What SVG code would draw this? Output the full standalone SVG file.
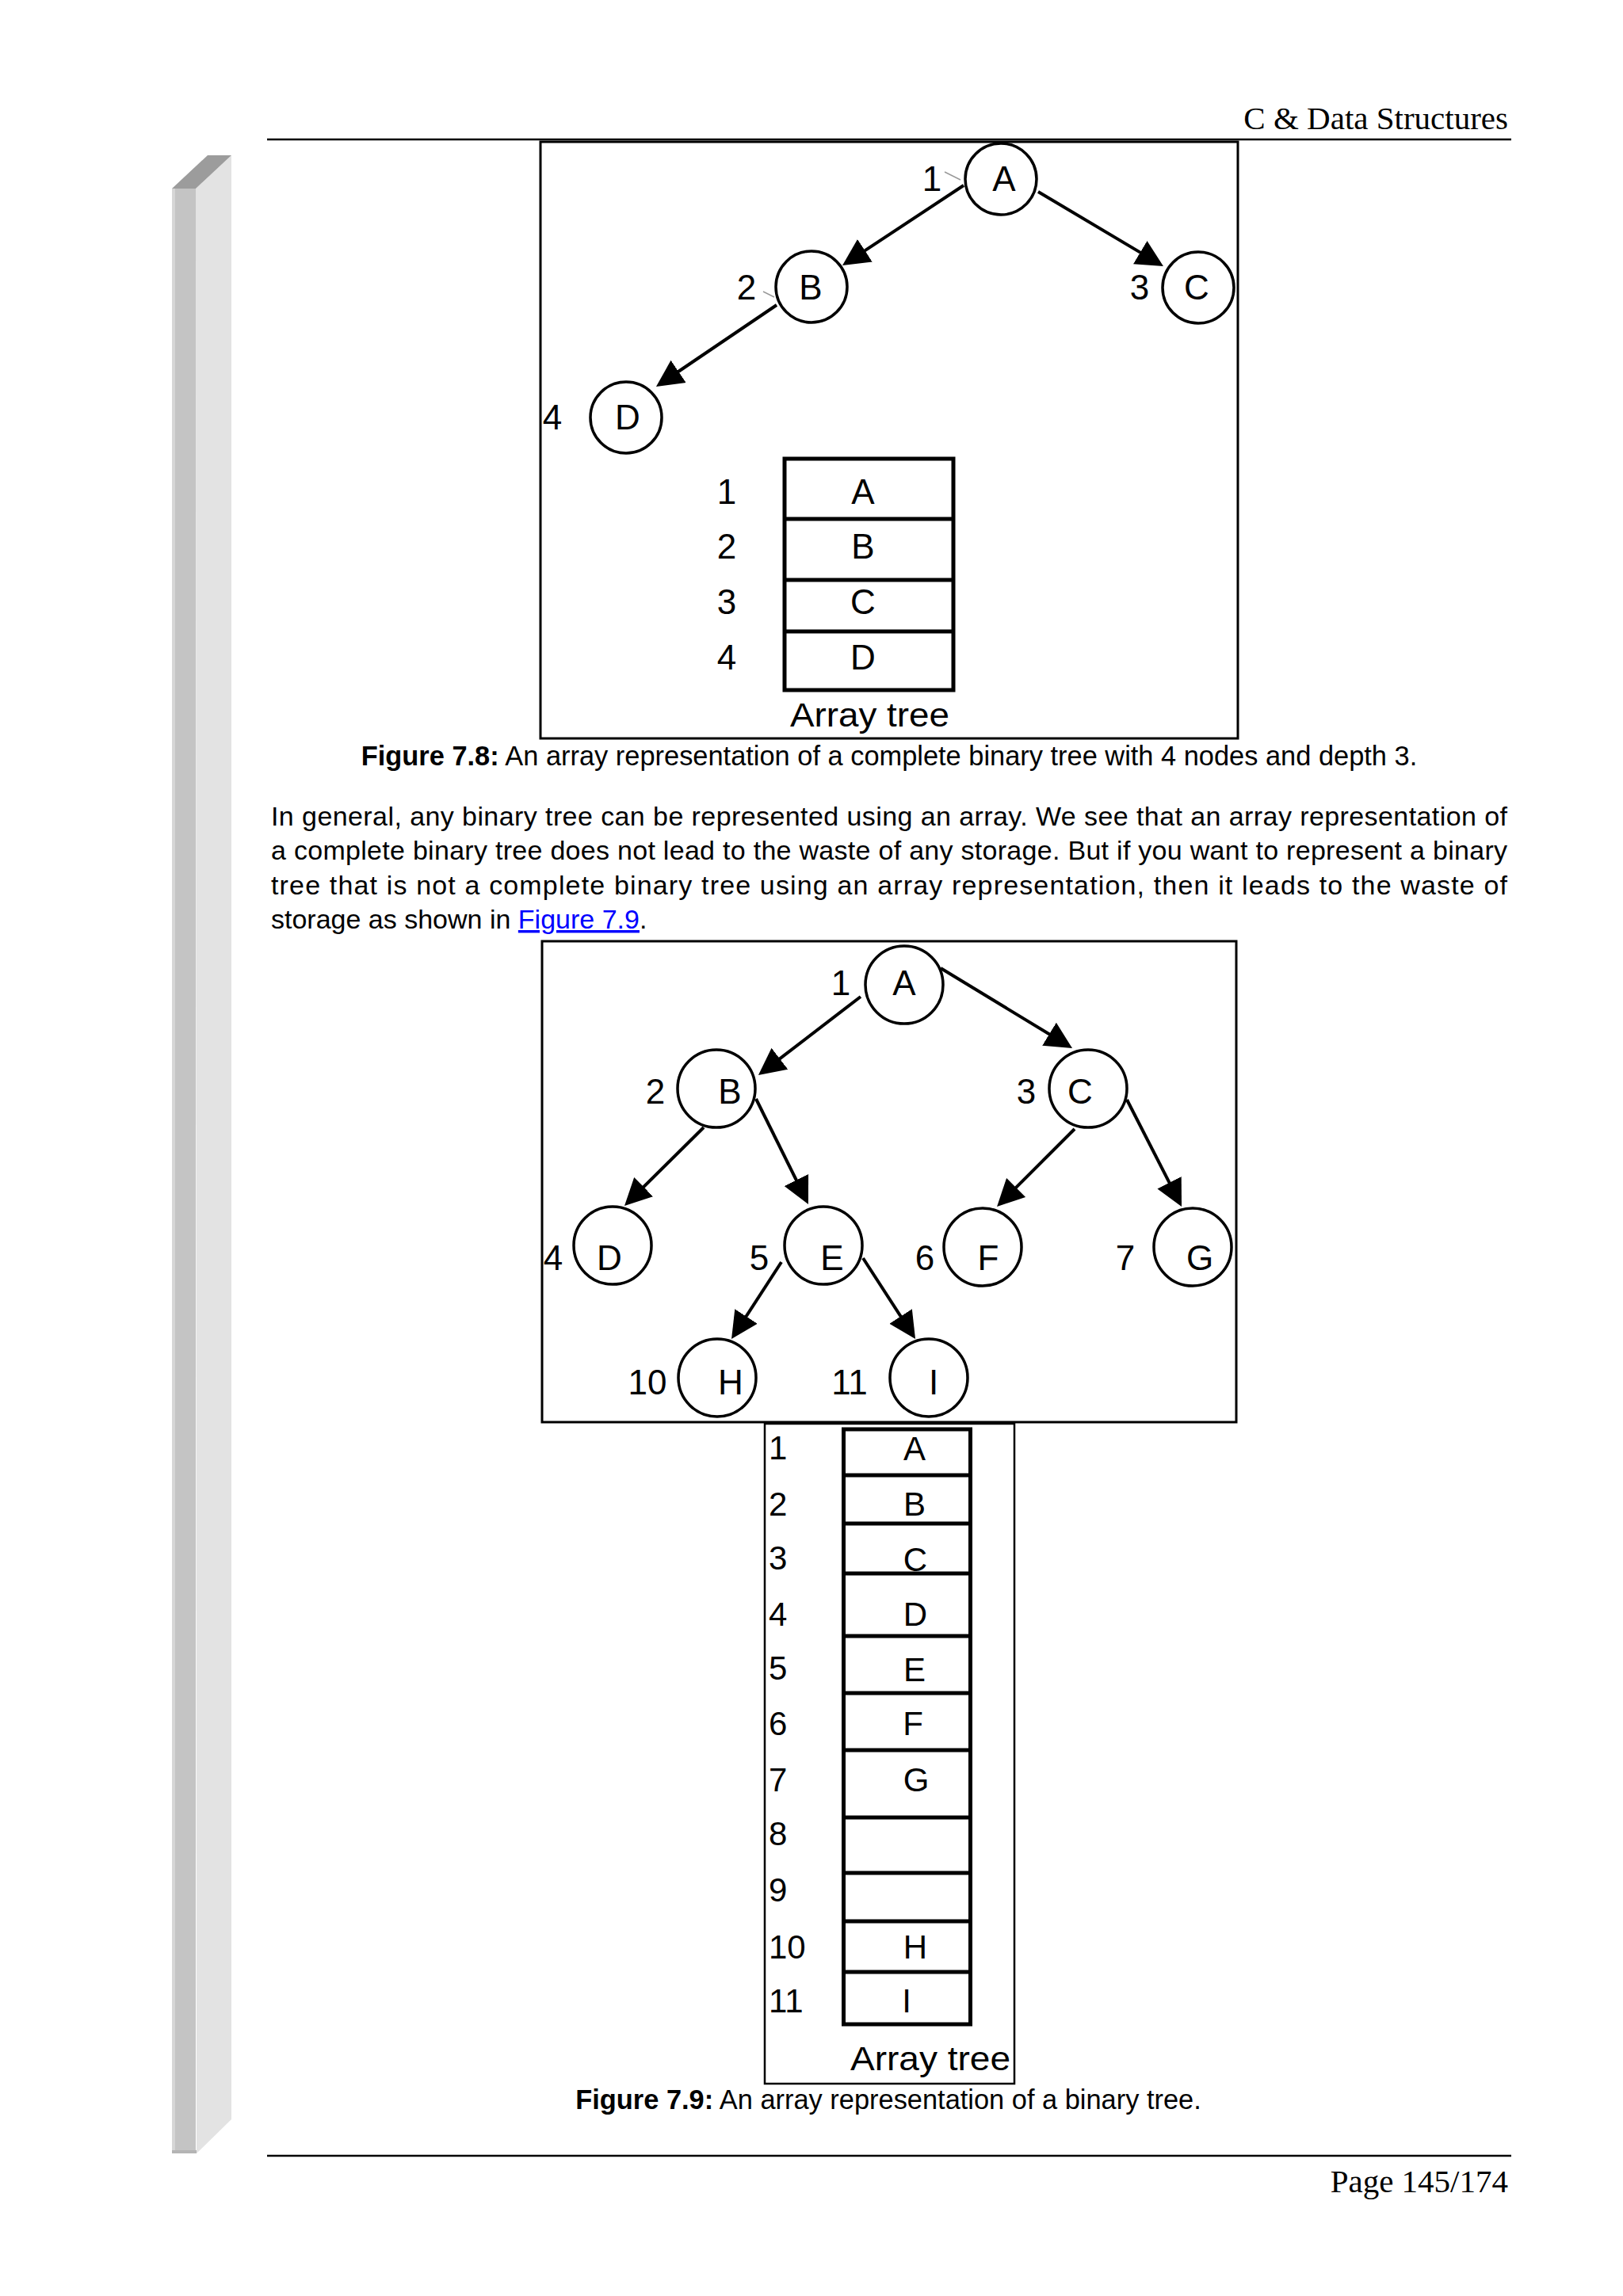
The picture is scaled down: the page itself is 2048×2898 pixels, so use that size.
<svg xmlns="http://www.w3.org/2000/svg" width="2048" height="2898" viewBox="0 0 2048 2898">
<defs>
<style>
.sans{font-family:"Liberation Sans",Arial,sans-serif;fill:#000}
.serif{font-family:"Liberation Serif","Times New Roman",serif;fill:#000}
.body{font-size:34px}
.cap{font-size:34.4px}
.lbl{font-size:44px;text-anchor:middle}
.cell{font-size:42px;text-anchor:middle}
.idx{font-size:42px}
.node{fill:#fff;stroke:#000;stroke-width:3.5}
.edge{stroke:#000;stroke-width:4;fill:none;marker-end:url(#ah)}
.frame{fill:none;stroke:#000;stroke-width:3}
.grid{stroke:#000;stroke-width:5;fill:none}
.rule{stroke:#000;stroke-width:2.5}
.tick{stroke:#999;stroke-width:1.5}
</style>
<marker id="ah" markerUnits="userSpaceOnUse" markerWidth="34" markerHeight="36" viewBox="0 0 34 36" refX="26" refY="18" orient="auto">
<path d="M0,1 L34,18 L0,35 z" fill="#000"/>
</marker>
</defs>
<rect width="2048" height="2898" fill="#fff"/>

<!-- decorative side bar -->
<g id="sidebar">
<polygon points="247,238 292,196 292,2675 248,2718" fill="#e3e3e3"/>
<rect x="217" y="238" width="30" height="2480" fill="#c4c4c4"/>
<rect x="217" y="238" width="4" height="2480" fill="#d6d6d6"/>
<rect x="217" y="2714" width="31" height="4" fill="#b4b4b4"/>
<polygon points="217,238 262,196 292,196 247,238" fill="#9c9c9c"/>
</g>

<!-- header / footer -->
<g id="header">
<text class="serif" x="1903" y="163" font-size="41" text-anchor="end">C &amp; Data Structures</text>
<line class="rule" x1="337" y1="176" x2="1907" y2="176"/>
</g>
<g id="footer">
<line class="rule" x1="337" y1="2721" x2="1907" y2="2721"/>
<text class="serif" x="1903" y="2767" font-size="41" text-anchor="end">Page 145/174</text>
</g>

<!-- Figure 7.8 -->
<g id="fig78">
<rect class="frame" x="682" y="179" width="880" height="753"/>
<g id="f78-connectors">
<line class="edge" x1="1216" y1="234" x2="1069.7" y2="330.6"/>
<line class="edge" x1="1310" y1="242" x2="1461.1" y2="331.9"/>
<line class="edge" x1="980" y1="385" x2="834.6" y2="483.5"/>
</g>
<g id="f78-A"><circle class="node" cx="1263" cy="226" r="45"/><text class="sans lbl" x="1267" y="241">A</text><text class="sans lbl" x="1176" y="241">1</text><line class="tick" x1="1192" y1="217" x2="1212" y2="227"/></g>
<g id="f78-B"><circle class="node" cx="1024" cy="362" r="45"/><text class="sans lbl" x="1023" y="378">B</text><text class="sans lbl" x="942" y="378">2</text><line class="tick" x1="963" y1="368" x2="977" y2="375"/></g>
<g id="f78-C"><circle class="node" cx="1512" cy="363" r="45"/><text class="sans lbl" x="1510" y="378">C</text><text class="sans lbl" x="1438" y="378">3</text></g>
<g id="f78-D"><circle class="node" cx="790" cy="527" r="45"/><text class="sans lbl" x="792" y="542">D</text><text class="sans lbl" x="697" y="542">4</text></g>
<g id="f78-array">
<rect class="grid" x="990" y="579" width="213" height="292"/>
<line class="grid" x1="990" y1="655" x2="1203" y2="655"/>
<line class="grid" x1="990" y1="732" x2="1203" y2="732"/>
<line class="grid" x1="990" y1="797" x2="1203" y2="797"/>
<text class="sans lbl" x="917" y="636">1</text><text class="sans lbl" x="1089" y="636">A</text>
<text class="sans lbl" x="917" y="705">2</text><text class="sans lbl" x="1089" y="705">B</text>
<text class="sans lbl" x="917" y="775">3</text><text class="sans lbl" x="1089" y="775">C</text>
<text class="sans lbl" x="917" y="845">4</text><text class="sans lbl" x="1089" y="845">D</text>
<text class="sans" x="997" y="917" font-size="42" textLength="201" lengthAdjust="spacingAndGlyphs">Array tree</text>
</g>
</g>
<text class="sans cap" x="1122" y="966" text-anchor="middle"><tspan font-weight="bold">Figure 7.8:</tspan> An array representation of a complete binary tree with 4 nodes and depth 3.</text>

<!-- paragraph -->
<g id="paragraph">
<text class="sans body" x="342" y="1042" textLength="1560" lengthAdjust="spacing">In general, any binary tree can be represented using an array. We see that an array representation of</text>
<text class="sans body" x="342" y="1085" textLength="1560" lengthAdjust="spacing">a complete binary tree does not lead to the waste of any storage. But if you want to represent a binary</text>
<text class="sans body" x="342" y="1129" textLength="1560" lengthAdjust="spacing">tree that is not a complete binary tree using an array representation, then it leads to the waste of</text>
<text class="sans body" x="342" y="1172">storage as shown in <tspan fill="#0000ff" text-decoration="underline">Figure 7.9</tspan>.</text>
</g>

<!-- Figure 7.9 -->
<g id="fig79">
<rect class="frame" x="684" y="1188" width="876" height="607"/>
<g id="f79-connectors">
<line class="edge" x1="1086" y1="1258" x2="963.3" y2="1352.1"/>
<line class="edge" x1="1187" y1="1222" x2="1346.2" y2="1318.8"/>
<line class="edge" x1="888" y1="1423" x2="793.7" y2="1516.4"/>
<line class="edge" x1="954" y1="1387" x2="1016.4" y2="1512.8"/>
<line class="edge" x1="1356" y1="1425" x2="1263.7" y2="1517.3"/>
<line class="edge" x1="1422" y1="1388" x2="1487.4" y2="1515.9"/>
<line class="edge" x1="986" y1="1593" x2="927.4" y2="1683.3"/>
<line class="edge" x1="1089" y1="1588" x2="1150.7" y2="1683.3"/>
</g>
<g id="f79-A"><circle class="node" cx="1141" cy="1243" r="49"/><text class="sans lbl" x="1141" y="1256">A</text><text class="sans lbl" x="1061" y="1256">1</text></g>
<g id="f79-B"><circle class="node" cx="904" cy="1374" r="49"/><text class="sans lbl" x="921" y="1393">B</text><text class="sans lbl" x="827" y="1393">2</text></g>
<g id="f79-C"><circle class="node" cx="1373" cy="1374" r="49"/><text class="sans lbl" x="1363" y="1393">C</text><text class="sans lbl" x="1295" y="1393">3</text></g>
<g id="f79-D"><circle class="node" cx="773" cy="1572" r="49"/><text class="sans lbl" x="769" y="1603">D</text><text class="sans lbl" x="698" y="1603">4</text></g>
<g id="f79-E"><circle class="node" cx="1039" cy="1572" r="49"/><text class="sans lbl" x="1050" y="1603">E</text><text class="sans lbl" x="958" y="1603">5</text></g>
<g id="f79-F"><circle class="node" cx="1240" cy="1574" r="49"/><text class="sans lbl" x="1247" y="1603">F</text><text class="sans lbl" x="1167" y="1603">6</text></g>
<g id="f79-G"><circle class="node" cx="1505" cy="1574" r="49"/><text class="sans lbl" x="1514" y="1603">G</text><text class="sans lbl" x="1420" y="1603">7</text></g>
<g id="f79-H"><circle class="node" cx="905" cy="1739" r="49"/><text class="sans lbl" x="922" y="1760">H</text><text class="sans lbl" x="817" y="1760">10</text></g>
<g id="f79-I"><circle class="node" cx="1172" cy="1739" r="49"/><text class="sans lbl" x="1178" y="1760">I</text><text class="sans lbl" x="1072" y="1760">11</text></g>
</g>

<g id="f79-array">
<rect x="965" y="1797" width="315" height="833" fill="none" stroke="#000" stroke-width="2.5"/>
<rect class="grid" x="1064.5" y="1804" width="160" height="751" stroke-width="4.5"/>
<g class="grid" stroke-width="4.5">
<line x1="1062" y1="1862" x2="1224.5" y2="1862"/>
<line x1="1062" y1="1923" x2="1224.5" y2="1923"/>
<line x1="1062" y1="1986" x2="1224.5" y2="1986"/>
<line x1="1062" y1="2065" x2="1224.5" y2="2065"/>
<line x1="1062" y1="2137" x2="1224.5" y2="2137"/>
<line x1="1062" y1="2209" x2="1224.5" y2="2209"/>
<line x1="1062" y1="2294" x2="1224.5" y2="2294"/>
<line x1="1062" y1="2364" x2="1224.5" y2="2364"/>
<line x1="1062" y1="2425" x2="1224.5" y2="2425"/>
<line x1="1062" y1="2489" x2="1224.5" y2="2489"/>
</g>
<text class="sans cell" x="1154" y="1843">A</text>
<text class="sans cell" x="1154" y="1913">B</text>
<text class="sans cell" x="1155" y="1983">C</text>
<text class="sans cell" x="1155" y="2052">D</text>
<text class="sans cell" x="1154" y="2122">E</text>
<text class="sans cell" x="1152" y="2190">F</text>
<text class="sans cell" x="1156" y="2261">G</text>
<text class="sans cell" x="1155" y="2472">H</text>
<text class="sans cell" x="1144" y="2540">I</text>
<text class="sans idx" x="970" y="1842">1</text>
<text class="sans idx" x="970" y="1913">2</text>
<text class="sans idx" x="970" y="1981">3</text>
<text class="sans idx" x="970" y="2052">4</text>
<text class="sans idx" x="970" y="2120">5</text>
<text class="sans idx" x="970" y="2190">6</text>
<text class="sans idx" x="970" y="2261">7</text>
<text class="sans idx" x="970" y="2329">8</text>
<text class="sans idx" x="970" y="2400">9</text>
<text class="sans idx" x="970" y="2472">10</text>
<text class="sans idx" x="970" y="2540">11</text>
<text class="sans" x="1073" y="2613" font-size="42" textLength="202" lengthAdjust="spacingAndGlyphs">Array tree</text>
</g>
<text class="sans cap" x="1121" y="2662" text-anchor="middle"><tspan font-weight="bold">Figure 7.9:</tspan> An array representation of a binary tree.</text>
</svg>
